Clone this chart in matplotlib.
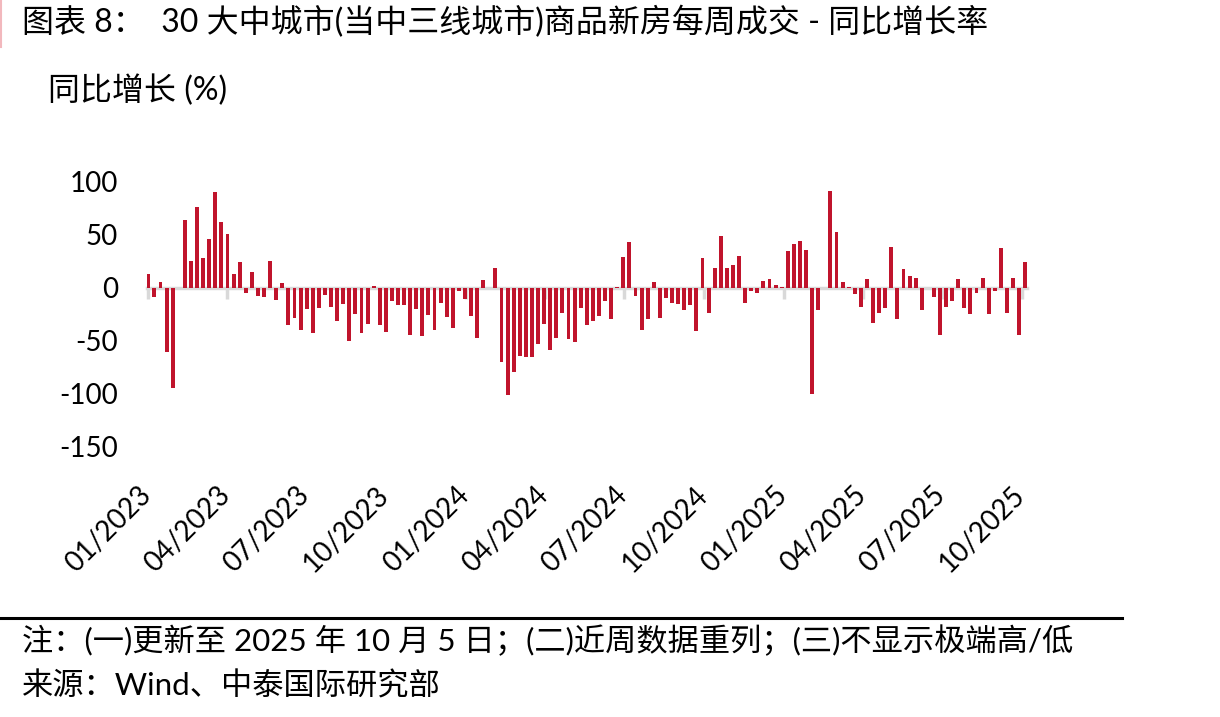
import pandas as pd
import matplotlib.pyplot as plt
import matplotlib.transforms as mtransforms
from matplotlib.dates import DateFormatter
from matplotlib.lines import Line2D

plt.rcParams['font.family'] = ['Lato', 'Noto Sans CJK SC']
plt.rcParams['axes.unicode_minus'] = False

# weekly YoY growth (%), week ending Sunday, 2023-01-01 .. 2025-10-05
weeks = pd.date_range(start='2023-01-01', end='2025-10-05', freq='W-SUN')
yoy = [
    13, -9, 5, -61, -95, 0, 64, 25, 76, 28, 46, 90, 62, 51, 13, 24, -5, 15, -8, -9,
    25, -12, 4, -35, -29, -40, -20, -43, -19, -7, -18, -31, -15, -50, -25, -43, -34,
    2, -35, -42, -13, -16, -16, -45, -20, -46, -26, -40, -14, -28, -38, -3, -11, -27,
    -47, 7, 0, 19, -70, -101, -80, -64, -65, -65, -53, -34, -59, -47, -24, -48, -51,
    -19, -35,
    -31, -27, -13, -30, 1, 29, 43, -8, -40, -30, 5, -29, -10, -14, -15, -21, -16, -41,
    28, -24, 19, 49, 19, 21, 30, -14, -3, -5, 6, 8, 3, 1, 35, 41, 44, 36,
    -100, -21, 0, 91, 53, 5, 1, -6, -18, 8, -33, -24, -19, 38, -30, 18, 11, 9, -21, 0,
    -9, -45, -18, -13, 8, -19, -25, -5, 9, -25, -3, 37, -24, 9, -45, 24,
]
tick_dates = pd.date_range(start='2023-01-01', end='2025-10-01', freq='QS')
y_ticks = [100, 50, 0, -50, -100, -150]

title = '图表 8：  30 大中城市(当中三线城市)商品新房每周成交 - 同比增长率'
y_title = '同比增长 (%)'
note1 = '注：(一)更新至 2025 年 10 月 5 日；(二)近周数据重列；(三)不显示极端高/低'
note2 = '来源：Wind、中泰国际研究部'

bar_color = '#C0142C'
grey = '#d9d9d9'

fig = plt.figure(figsize=(12.2, 7.17), dpi=100)
ax = fig.add_axes([0.1205, 0.377, 0.7213, 0.3696])

ax.bar(weeks, yoy, width=4.5, color=bar_color, zorder=2)

ax.set_xlim(weeks[0] - pd.Timedelta(days=1.5), weeks[-1] + pd.Timedelta(days=2))
ax.set_ylim(-150, 100)
ax.set_yticks(y_ticks)
ax.tick_params(axis='y', length=0, pad=21, labelsize=20)
for s in ax.spines.values():
    s.set_visible(False)

# date labels at the bottom, rotated
ax.set_xticks(tick_dates)
ax.xaxis.set_major_formatter(DateFormatter('%m/%Y'))
ax.tick_params(axis='x', length=0, pad=25, labelsize=20)
shift = mtransforms.ScaledTranslation(-10 / 100, 0, fig.dpi_scale_trans)
for lab in ax.get_xticklabels():
    lab.set_rotation(45)
    lab.set_ha('right')
    lab.set_va('top')
    lab.set_rotation_mode('anchor')
    lab.set_transform(lab.get_transform() + shift)

# zero line with tick marks
zero = ax.secondary_xaxis(0, transform=ax.transData)
zero.set_xticks(tick_dates)
zero.tick_params(axis='x', direction='out', length=8, width=2.5, color=grey,
                 labelbottom=False)
zero.spines['bottom'].set_color(grey)
zero.spines['bottom'].set_linewidth(2.5)

fig.text(0.018, 0.969, title, fontsize=23, va='center', ha='left')
fig.text(0.039, 0.8745, y_title, fontsize=23, va='center', ha='left')
fig.text(0.018, 0.107, note1, fontsize=22.5, va='center', ha='left')
fig.text(0.018, 0.043, note2, fontsize=22.5, va='center', ha='left')

fig.add_artist(Line2D([0, 0.92], [0.138, 0.138], color='black', lw=2.2))
fig.add_artist(Line2D([0.001, 0.001], [0.935, 1.0], color='#f2b8bd', lw=1.5))

fig.savefig('out.png', dpi=100)
